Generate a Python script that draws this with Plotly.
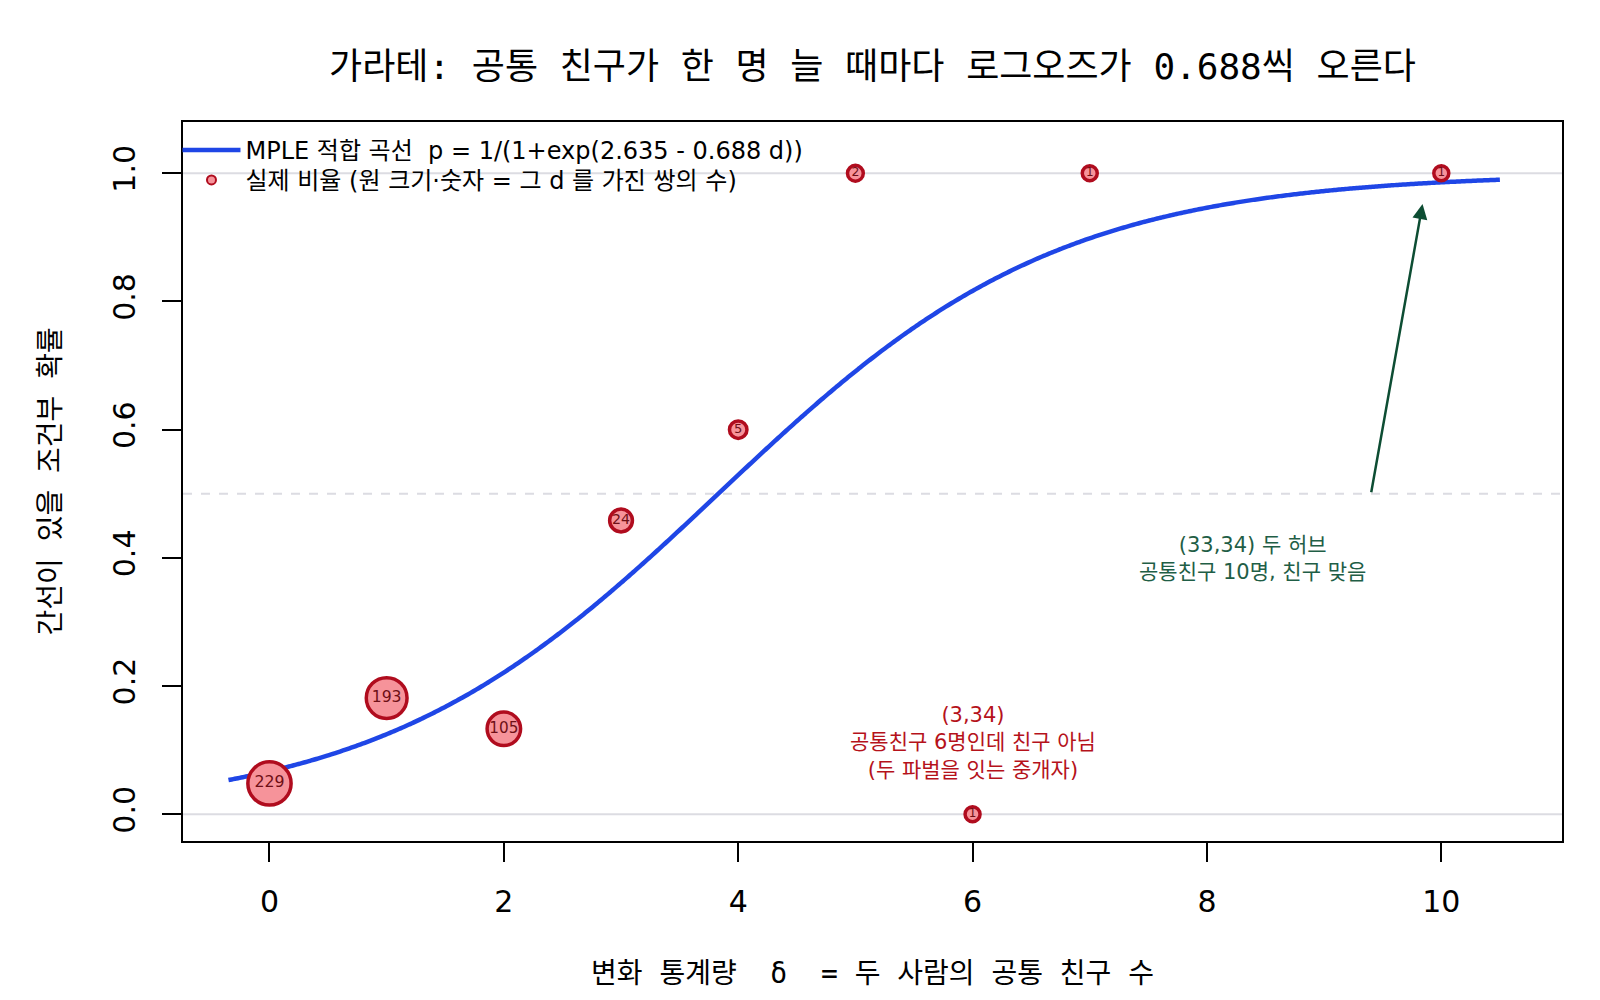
import numpy as np
import plotly.graph_objects as go

# ---- data ----
d_vals = [0, 1, 2, 3, 4, 5, 6, 7, 10]
prop_vals = [11/229, 35/193, 14/105, 11/24, 3/5, 1.0, 0.0, 1.0, 1.0]
pair_counts = [229, 193, 105, 24, 5, 2, 1, 1, 1]
theta0 = 2.635
theta1 = 0.688
curve_from, curve_to = -0.35, 10.5

title_text = "가라테: 공통 친구가 한 명 늘 때마다 로그오즈가 0.688씩 오른다"
xlab = "변화 통계량  δ  = 두 사람의 공통 친구 수"
ylab = "간선이 있을 조건부 확률"
leg_curve = "MPLE 적합 곡선  p = 1/(1+exp(2.635 - 0.688 d))"
leg_pts = "실제 비율 (원 크기·숫자 = 그 d 를 가진 쌍의 수)"
note_red = "(3,34)<br>공통친구 6명인데 친구 아님<br>(두 파벌을 잇는 중개자)"
note_green = "(33,34) 두 허브<br>공통친구 10명, 친구 맞음"

FONT = "DejaVu Sans, Noto Sans CJK KR"
WFONT = "DejaVu Sans Mono, Noto Sans CJK KR"
BLUE = "#1f46e6"
RED = "#b00c1e"
PINK = "#f6939a"
GREEN = "#0d4d33"

xs = np.linspace(curve_from, curve_to, 400)
ys = 1.0 / (1.0 + np.exp(theta0 - theta1 * xs))

counts = np.array(pair_counts, dtype=float)
msize = 13 + 2.0 * np.sqrt(counts)
tsize = 12 + 1.6 * np.log10(counts)

fig = go.Figure()

# reference lines
for yv, dash in [(0, "solid"), (1, "solid"), (0.5, "dash")]:
    fig.add_shape(type="line", xref="paper", x0=0, x1=1, yref="y", y0=yv, y1=yv,
                  line=dict(color="#dcdce2", width=2, dash=dash), layer="below")

fig.add_trace(go.Scatter(x=xs, y=ys, mode="lines", name=leg_curve, legend="legend",
                         line=dict(color=BLUE, width=4.5, shape="spline")))

fig.add_trace(go.Scatter(x=d_vals, y=prop_vals, mode="markers+text",
                         text=[str(c) for c in pair_counts],
                         textposition="middle center",
                         textfont=dict(family=FONT, size=list(tsize), color="#6e0f16"),
                         marker=dict(size=list(msize), color=PINK, opacity=1,
                                     line=dict(color=RED, width=3.5)),
                         showlegend=False, cliponaxis=False))

# legend-only marker entry
fig.add_trace(go.Scatter(x=[None], y=[None], mode="markers", name=leg_pts, legend="legend2",
                         marker=dict(size=9, color=PINK, line=dict(color=RED, width=2))))

fig.add_annotation(x=6, y=0.112, xref="x", yref="y", text=note_red, showarrow=False,
                   font=dict(family=FONT, size=21, color="#b5121b"), align="center")
fig.add_annotation(x=8.39, y=0.399, xref="x", yref="y", text=note_green, showarrow=False,
                   font=dict(family=FONT, size=21, color="#1f5e46"), align="center")
fig.add_annotation(x=9.84, y=0.952, ax=9.4, ay=0.5, xref="x", yref="y", axref="x", ayref="y",
                   text="", showarrow=True, arrowhead=2, arrowsize=1.2, arrowwidth=2.5,
                   arrowcolor=GREEN)

# axis titles
fig.add_annotation(x=0.5, y=0, xref="paper", yref="paper", yshift=-132, text=xlab,
                   showarrow=False, font=dict(family=WFONT, size=28, color="black"),
                   yanchor="middle")
fig.add_annotation(x=0, y=0.5, xref="paper", yref="paper", xshift=-133, text=ylab,
                   showarrow=False, textangle=-90, font=dict(family=WFONT, size=28, color="black"),
                   xanchor="center")

leg_common = dict(xanchor="left", yanchor="middle", bgcolor="rgba(0,0,0,0)",
                  font=dict(family=FONT, size=24, color="black"), itemwidth=58)
fig.update_layout(
    width=1600, height=1000,
    margin=dict(l=175, r=46, t=114, b=167),
    paper_bgcolor="white", plot_bgcolor="white",
    font=dict(family=FONT, color="black"),
    title=dict(text=title_text, x=0.5, xref="paper", y=1 - 58 / 1000, yref="container",
               xanchor="center", yanchor="middle", font=dict(family=WFONT, size=36, color="black")),
    legend=dict(x=-0.004, y=0.9606, **leg_common),
    legend2=dict(x=-0.004, y=0.9188, **leg_common),
    showlegend=True,
)
fig.update_xaxes(range=[-0.738, 11.03], tickvals=[0, 2, 4, 6, 8, 10], showgrid=False,
                 zeroline=False, showline=True, mirror=True, linecolor="black", linewidth=2,
                 ticks="outside", ticklen=19, tickwidth=2, tickcolor="black",
                 tickfont=dict(family=FONT, size=30, color="black"), ticklabelstandoff=14)
fig.update_yaxes(range=[-0.0417, 1.080], tickvals=[0, 0.2, 0.4, 0.6, 0.8, 1.0], tickformat=".1f",
                 showgrid=False, zeroline=False, showline=True, mirror=True, linecolor="black",
                 linewidth=2, ticks="outside", ticklen=19, tickwidth=2, tickcolor="black",
                 tickangle=-90, tickfont=dict(family=FONT, size=30, color="black"),
                 ticklabelstandoff=15)

fig.write_html("out.html")
